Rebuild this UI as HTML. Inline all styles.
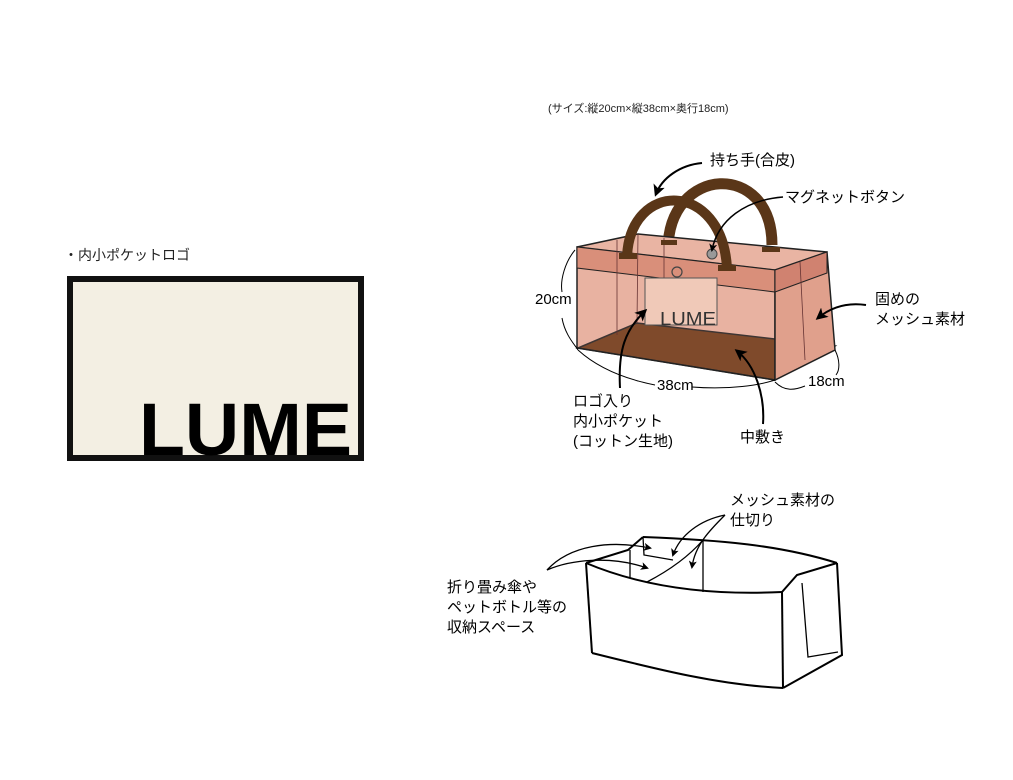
<!DOCTYPE html>
<html><head><meta charset="utf-8"><style>
html,body{margin:0;padding:0;background:#fff;}
svg{display:block;}
text{font-family:"Liberation Sans","Noto Sans CJK JP",sans-serif;}
</style></head><body>
<svg width="1013" height="780" viewBox="0 0 1013 780" xmlns="http://www.w3.org/2000/svg">
<defs>
<marker id="ah" markerWidth="8" markerHeight="8" refX="6" refY="4" orient="auto" markerUnits="userSpaceOnUse"><path d="M0,0 L8,4 L0,8 L2,4 Z" fill="#000"/></marker>
<marker id="ah2" markerWidth="12" markerHeight="12" refX="9" refY="6" orient="auto" markerUnits="userSpaceOnUse"><path d="M0,0 L12,6 L0,12 L3,6 Z" fill="#000"/></marker>
</defs>

<!-- Left logo -->
<text x="64" y="260" font-size="14" fill="#222">・内小ポケットロゴ</text>
<rect x="70" y="279" width="291" height="179" fill="#f3efe3" stroke="#111" stroke-width="6"/>
<text x="139" y="455" font-size="74" font-weight="bold" textLength="213" lengthAdjust="spacingAndGlyphs" fill="#000">LUME</text>

<!-- header -->
<text x="548" y="112" font-size="11" fill="#222">(サイズ:縦20cm×縦38cm×奥行18cm)</text>

<!-- Bag -->
<path d="M668,250 C668,165 772,160 772,245" fill="none" stroke="#5a3618" stroke-width="11"/>
<polygon points="577,247 638,234 827,252 835,350 775,380 577,348" fill="#e9b4a3"/>
<polygon points="578,348 637,323 835,346 775,380" fill="#6e3a18" stroke="#222" stroke-width="1.5"/>
<polygon points="577,247 775,270 775,380 577,348" fill="#e5a897" fill-opacity="0.15" stroke="#222" stroke-width="1.5"/>
<polygon points="577,247 775,270 775,292 577,268" fill="#d98f7a" stroke="#222" stroke-width="1"/>
<polygon points="775,270 827,252 835,350 775,380" fill="#e0a08c" stroke="#222" stroke-width="1.5"/>
<polygon points="775,270 827,252 827,273 775,292" fill="#d08270" stroke="#222" stroke-width="1"/>
<path d="M577,247 L638,234 L827,252" fill="none" stroke="#222" stroke-width="1.5"/>
<path d="M638,234 L637,323 M617,240 L617,335 M664,238 L664,305 M800,262 L805,360" stroke="#633" stroke-width="0.8" fill="none"/>
<rect x="645" y="278" width="72" height="47" fill="#f0c9b8" stroke="#555" stroke-width="1"/>
<text x="660" y="325" font-size="18" fill="#333" textLength="56" lengthAdjust="spacingAndGlyphs">LUME</text>
<circle cx="677" cy="272" r="5" fill="none" stroke="#444" stroke-width="1.2"/>
<circle cx="712" cy="254" r="5" fill="#999" stroke="#444"/>
<path d="M627,257 C630,180 722,180 727,268" fill="none" stroke="#5a3618" stroke-width="10"/>
<rect x="619" y="253" width="18" height="6" fill="#5a3618"/>
<rect x="718" y="265" width="18" height="6" fill="#5a3618"/>
<rect x="661" y="240" width="16" height="5" fill="#5a3618"/>
<rect x="762" y="247" width="18" height="5" fill="#5a3618"/>

<text x="710" y="165" font-size="15" fill="#000">持ち手(合皮)</text>
<path d="M702,163 C680,165 662,178 656,194" fill="none" stroke="#000" stroke-width="2" marker-end="url(#ah2)"/>
<text x="785" y="202" font-size="15" fill="#000">マグネットボタン</text>
<path d="M783,197 C745,200 718,220 712,250" fill="none" stroke="#000" stroke-width="1.5" marker-end="url(#ah)"/>
<text x="875" y="304" font-size="15" fill="#000">固めの</text>
<text x="875" y="324" font-size="15" fill="#000">メッシュ素材</text>
<path d="M866,305 C845,302 830,308 818,318" fill="none" stroke="#000" stroke-width="2" marker-end="url(#ah2)"/>
<text x="535" y="304" font-size="15" fill="#000">20cm</text>
<path d="M575,250 C565,262 560,280 562,292 M562,318 C565,335 575,345 578,350" fill="none" stroke="#000" stroke-width="1"/>
<text x="657" y="390" font-size="15" fill="#000">38cm</text>
<path d="M578,350 C600,370 630,380 655,385 M692,387 C730,390 760,385 775,380" fill="none" stroke="#000" stroke-width="1"/>
<text x="808" y="386" font-size="15" fill="#000">18cm</text>
<path d="M775,382 C785,392 795,390 805,386 M835,350 C840,360 840,370 836,375" fill="none" stroke="#000" stroke-width="1"/>
<text x="573" y="406" font-size="15" fill="#000">ロゴ入り</text>
<text x="573" y="426" font-size="15" fill="#000">内小ポケット</text>
<text x="573" y="446" font-size="15" fill="#000">(コットン生地)</text>
<path d="M620,388 C618,350 625,330 645,311" fill="none" stroke="#000" stroke-width="2" marker-end="url(#ah2)"/>
<text x="740" y="442" font-size="15" fill="#000">中敷き</text>
<path d="M763,424 C765,395 755,365 737,351" fill="none" stroke="#000" stroke-width="2" marker-end="url(#ah2)"/>

<!-- Lower organizer -->
<g fill="none" stroke="#000" stroke-width="2">
<path d="M586,563 L628,550 L643,537"/>
<path d="M643,537 C720,540 780,545 837,563"/>
<path d="M586,563 C650,590 720,595 782,592"/>
<path d="M782,592 L797,575 L837,563"/>
<path d="M586,563 L592,653"/>
<path d="M592,653 C660,670 720,685 783,688"/>
<path d="M782,592 L783,688"/>
<path d="M837,563 L842,655 L783,688"/>
</g>
<g fill="none" stroke="#000" stroke-width="1.3">
<path d="M802,583 L808,657 L838,652"/>
<path d="M630,550 L630,578"/>
<path d="M703,540 L703,592"/>
<path d="M643,537 L644,555 L673,560"/>
<path d="M647,582 C670,570 690,555 703,540"/>
<path d="M547,570 C570,545 610,540 650,548" marker-end="url(#ah)"/>
<path d="M547,570 C570,560 610,555 647,568" marker-end="url(#ah)"/>
<path d="M725,515 C700,520 680,535 673,555" marker-end="url(#ah)"/>
<path d="M725,515 C710,530 695,545 692,567" marker-end="url(#ah)"/>
</g>
<text x="730" y="505" font-size="15" fill="#000">メッシュ素材の</text>
<text x="730" y="525" font-size="15" fill="#000">仕切り</text>
<text x="447" y="592" font-size="15" fill="#000">折り畳み傘や</text>
<text x="447" y="612" font-size="15" fill="#000">ペットボトル等の</text>
<text x="447" y="632" font-size="15" fill="#000">収納スペース</text>
</svg>
</body></html>
